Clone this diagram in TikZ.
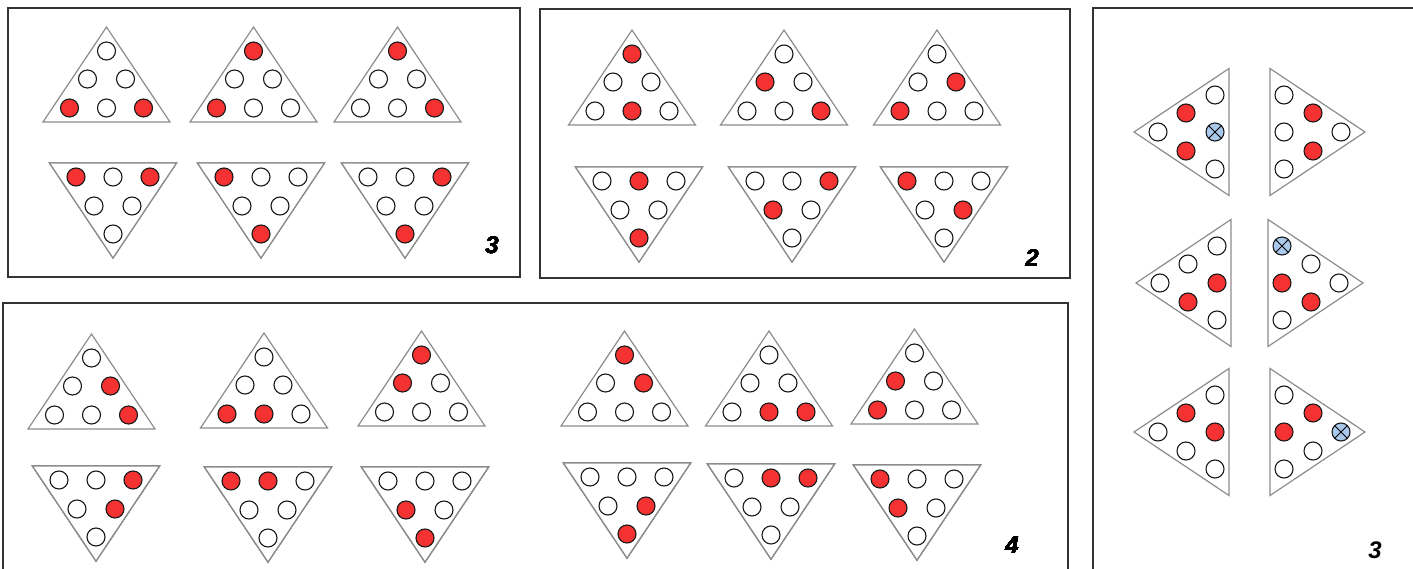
\documentclass[tikz,border=0pt]{standalone}
\usepackage{fontspec}
\setsansfont{Liberation Sans}
\definecolor{pegred}{RGB}{245,50,50}
\definecolor{pegblue}{RGB}{170,200,235}
\tikzset{
  frame/.style={draw=black!80,line width=1.4pt},
  tri/.style={draw=black!45,line width=1.2pt,fill=white},
  hole/.style={draw=black!90,line width=1.1pt,fill=white},
  num/.style={font=\sffamily\bfseries\itshape\fontsize{24}{24}\selectfont},
  tup/.style={shift={#1}},
  tdown/.style={shift={#1},yscale=-1},
  tleft/.style={shift={#1},rotate=90,xscale=-1},
  tright/.style={shift={#1},rotate=-90}
}
% one peg: 0 empty, 1 red, 2 blue with a cross
\newcommand{\peg}[3]{%
  \ifcase#3\relax
    \draw[hole] (#1,#2) circle (9);
  \or
    \draw[hole,fill=pegred] (#1,#2) circle (9);
  \or
    \draw[hole,fill=pegblue] (#1,#2) circle (9);
    \draw[line width=1pt] (#1-6.4,#2-6.4) -- (#1+6.4,#2+6.4)
      (#1-6.4,#2+6.4) -- (#1+6.4,#2-6.4);
  \fi}
% a triangle with six pegs, tip at the origin
\newcommand{\piece}[7]{%
  \begin{scope}[#1]
    \draw[tri] (0,0) -- (-63.5,95) -- (63.5,95) -- cycle;
    \peg{0}{24}{#2}\peg{-19}{52}{#3}\peg{19}{52}{#4}
    \peg{-37}{81}{#5}\peg{0}{81}{#6}\peg{37}{81}{#7}
  \end{scope}}

\begin{document}
\begin{tikzpicture}[x=1pt,y=-1pt]
 \useasboundingbox (0,0) rectangle (1413,569);

 % top left
 \draw[frame] (8,8) rectangle (520,277);
 \foreach \x/\a/\b/\c/\d/\e/\f in {106.5/0/0/0/1/0/1,253.5/1/0/0/1/0/0,397.5/1/0/0/0/0/1}
  \piece{tup={(\x,27)}}{\a}{\b}{\c}{\d}{\e}{\f}
 \foreach \x/\a/\b/\c/\d/\e/\f in {113/0/0/0/1/0/1,261/1/0/0/1/0/0,405/1/0/0/0/0/1}
  \piece{tdown={(\x,258)}}{\a}{\b}{\c}{\d}{\e}{\f}
 \node[num] (nA) at (492,245) {3};

 % top middle
 \draw[frame] (540,9) rectangle (1070,278);
 \foreach \x/\a/\b/\c/\d/\e/\f in {632/1/0/0/0/1/0,784/0/1/0/0/0/1,937/0/0/1/1/0/0}
  \piece{tup={(\x,30)}}{\a}{\b}{\c}{\d}{\e}{\f}
 \foreach \x/\a/\b/\c/\d/\e/\f in {639/1/0/0/0/1/0,792/0/1/0/0/0/1,944/0/0/1/1/0/0}
  \piece{tdown={(\x,262)}}{\a}{\b}{\c}{\d}{\e}{\f}
 \node[num] (nB) at (1032,258) {2};

 % bottom
 \draw[frame] (3,303) rectangle (1068,580);
 \foreach \x/\y/\a/\b/\c/\d/\e/\f in {91.5/334/0/0/1/0/0/1,264/333/0/0/0/1/1/0,
   421.5/331/1/1/0/0/0/0,624.5/331/1/0/1/0/0/0,769/331/0/0/0/0/1/1,914.5/329/0/1/0/1/0/0}
  \piece{tup={(\x,\y)}}{\a}{\b}{\c}{\d}{\e}{\f}
 \foreach \x/\y/\a/\b/\c/\d/\e/\f in {96/561/0/0/1/0/0/1,268/562/0/0/0/1/1/0,
   425/562/1/1/0/0/0/0,627/558/1/0/1/0/0/0,771/559/0/0/0/0/1/1,917/560/0/1/0/1/0/0}
  \piece{tdown={(\x,\y)}}{\a}{\b}{\c}{\d}{\e}{\f}
 \node[num] (nC) at (1012,545) {4};

 % right
 \draw[frame] (1093,8) rectangle (1420,580);
 \piece{tleft={(1134,132)}}{0}{1}{1}{0}{2}{0}
 \piece{tright={(1365,132)}}{0}{1}{1}{0}{0}{0}
 \piece{tleft={(1136,283)}}{0}{0}{1}{0}{1}{0}
 \piece{tright={(1363,283)}}{0}{0}{1}{2}{1}{0}
 \piece{tleft={(1134,432)}}{0}{1}{0}{0}{1}{0}
 \piece{tright={(1365,432)}}{2}{1}{0}{0}{1}{0}
 \node[num] (nD) at (1375,550) {3};
\end{tikzpicture}
\end{document}
